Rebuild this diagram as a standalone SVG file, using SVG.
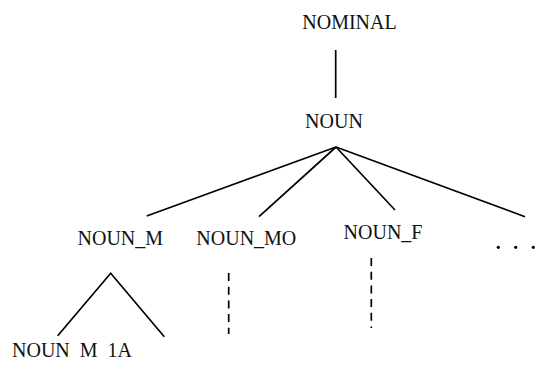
<svg xmlns="http://www.w3.org/2000/svg" width="536" height="365" viewBox="0 0 536 365">
<style>
text{font-family:"Liberation Serif","Times New Roman",serif;font-size:20px;fill:#111;text-anchor:middle}
.l{stroke:#000;stroke-width:1.7;fill:none}
.d{stroke:#000;stroke-width:1.7;fill:none;stroke-dasharray:8 5.7}
</style>
<rect width="536" height="365" fill="#fff"/>
<g id="connectors">
<line class="l" x1="335.7" y1="50" x2="335.7" y2="98"/>
<line class="l" x1="336" y1="147" x2="146.7" y2="216"/>
<line class="l" x1="336" y1="147" x2="259" y2="216.7"/>
<line class="l" x1="336" y1="147" x2="395" y2="210"/>
<line class="l" x1="336" y1="147" x2="525" y2="216.7"/>
<polyline class="l" points="57.7,335.7 110.7,273.3 164.3,336.7"/>
<line class="d" x1="228.7" y1="273" x2="228.7" y2="334"/>
<line class="d" x1="371.3" y1="258" x2="371.3" y2="328"/>
</g>
<g id="n-nominal"><text x="349.5" y="29">NOMINAL</text></g>
<g id="n-noun"><text x="334" y="128">NOUN</text></g>
<g id="n-noun-m"><text x="120.3" y="245">NOUN_M</text></g>
<g id="n-noun-mo"><text x="246.3" y="245">NOUN_MO</text></g>
<g id="n-noun-f"><text x="383" y="239">NOUN_F</text></g>
<g id="n-more">
<circle cx="498.3" cy="247.3" r="1.6" fill="#000"/>
<circle cx="515.7" cy="247.3" r="1.6" fill="#000"/>
<circle cx="533.3" cy="247.3" r="1.6" fill="#000"/>
</g>
<g id="n-noun-m-1a"><text x="72" y="357" style="word-spacing:5px">NOUN M 1A</text></g>
</svg>
